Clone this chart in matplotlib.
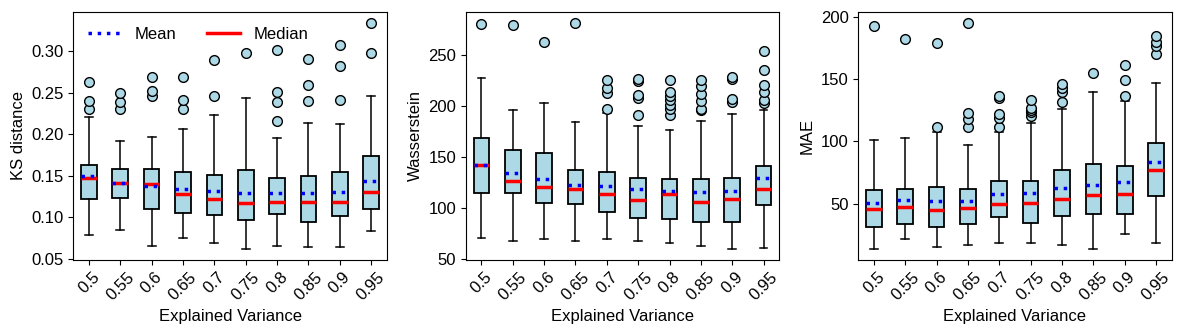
import matplotlib.pyplot as plt
import numpy as np

plt.rcParams['font.family'] = ['Liberation Sans', 'DejaVu Sans']
plt.rcParams['font.size'] = 12

labels = ['0.5', '0.55', '0.6', '0.65', '0.7', '0.75', '0.8', '0.85', '0.9', '0.95']

# KS distance
ks_whislo = [0.0794, 0.0845, 0.0663, 0.0758, 0.0699, 0.0627, 0.0663, 0.0643, 0.0643, 0.0833]
ks_q1 = [0.1223, 0.1234, 0.1103, 0.1048, 0.1032, 0.0972, 0.1044, 0.0941, 0.1020, 0.1103]
ks_med = [0.1473, 0.1413, 0.1401, 0.1286, 0.1223, 0.1175, 0.1187, 0.1187, 0.1187, 0.1310]
ks_mean = [0.1500, 0.1413, 0.1377, 0.1342, 0.1318, 0.1294, 0.1294, 0.1294, 0.1306, 0.1437]
ks_q3 = [0.1627, 0.1580, 0.1580, 0.1544, 0.1512, 0.1576, 0.1473, 0.1500, 0.1544, 0.1739]
ks_whishi = [0.2211, 0.1913, 0.1965, 0.2060, 0.2227, 0.2437, 0.1953, 0.2136, 0.2124, 0.2461]
ks_fliers = [
    [0.2306, 0.2394, 0.2632],
    [0.2306, 0.2386, 0.2489],
    [0.2457, 0.2513, 0.2687],
    [0.2298, 0.2413, 0.2687],
    [0.2461, 0.2890],
    [0.2973],
    [0.2163, 0.2382, 0.2509, 0.3009],
    [0.2394, 0.2592, 0.2898],
    [0.2406, 0.2814, 0.3069],
    [0.2973, 0.3335],
]

# Wasserstein
ws_whislo = [70.5, 67.9, 69.5, 67.9, 69.5, 67.9, 65.9, 62.6, 60.0, 61.0]
ws_q1 = [114.6, 114.6, 104.9, 103.6, 96.1, 89.9, 88.9, 86.5, 86.5, 102.4]
ws_med = [141.6, 126.0, 120.5, 118.2, 113.6, 107.5, 113.3, 105.6, 108.5, 117.9]
ws_mean = [141.6, 133.8, 127.9, 122.1, 121.1, 118.2, 116.0, 115.3, 116.3, 129.5]
ws_q3 = [167.9, 156.8, 153.9, 137.3, 135.4, 128.9, 128.3, 127.9, 128.9, 140.6]
ws_whishi = [227.3, 195.5, 202.9, 184.4, 193.2, 179.6, 176.0, 185.4, 191.9, 195.8]
ws_fliers = [
    [279.9],
    [278.9],
    [262.4],
    [280.9],
    [197.1, 212.7, 217.2, 224.7],
    [191.2, 207.5, 210.7, 223.7, 226.0],
    [191.2, 196.4, 200.3, 205.2, 209.4, 213.3, 224.7],
    [195.5, 196.4, 204.6, 211.7, 218.9, 224.7],
    [203.9, 206.2, 226.0, 227.6],
    [202.6, 205.8, 213.6, 219.8, 235.1, 253.9],
]

# MAE
mae_whislo = [13.8, 21.3, 15.4, 17.0, 18.6, 18.6, 17.0, 13.8, 25.8, 18.6]
mae_q1 = [31.4, 33.8, 31.4, 33.8, 39.4, 34.6, 39.9, 41.8, 41.8, 56.1]
mae_med = [45.7, 47.3, 44.9, 46.5, 50.0, 50.5, 53.7, 56.9, 58.0, 76.9]
mae_mean = [50.5, 52.9, 51.9, 52.1, 57.7, 58.5, 62.5, 64.9, 67.3, 83.2]
mae_q3 = [60.9, 61.7, 63.0, 61.7, 68.1, 68.1, 76.9, 81.6, 80.1, 98.4]
mae_whishi = [100.8, 102.7, 107.7, 96.8, 107.4, 114.9, 125.8, 139.4, 132.7, 146.5]
mae_fliers = [
    [192.6],
    [182.2],
    [111.4, 179.0],
    [111.4, 117.6, 122.6, 195.0],
    [111.4, 118.4, 122.1, 135.1, 136.7],
    [120.2, 123.1, 125.5, 127.1, 133.5],
    [131.9, 139.9, 143.1, 146.3],
    [155.1],
    [136.7, 149.5, 161.4],
    [170.2, 176.9, 180.1, 184.6],
]


def make_stats(whislo, q1, med, mean, q3, whishi, fliers):
    stats = []
    for i in range(len(labels)):
        stats.append(dict(label=labels[i], whislo=whislo[i], q1=q1[i], med=med[i],
                          mean=mean[i], q3=q3[i], whishi=whishi[i],
                          fliers=np.array(fliers[i])))
    return stats


panels = [
    (make_stats(ks_whislo, ks_q1, ks_med, ks_mean, ks_q3, ks_whishi, ks_fliers), 'KS distance'),
    (make_stats(ws_whislo, ws_q1, ws_med, ws_mean, ws_q3, ws_whishi, ws_fliers), 'Wasserstein'),
    (make_stats(mae_whislo, mae_q1, mae_med, mae_mean, mae_q3, mae_whishi, mae_fliers), 'MAE'),
]

fig, axes = plt.subplots(1, 3, figsize=(11.82, 3.34), dpi=100)
fig.subplots_adjust(left=0.062, right=0.9913, top=0.965, bottom=0.222, wspace=0.252)

for ax, (stats, ylab) in zip(axes, panels):
    ax.bxp(stats, showmeans=True, meanline=True, patch_artist=True,
           boxprops=dict(facecolor='lightblue', edgecolor='black', linewidth=1.3),
           medianprops=dict(color='red', linewidth=2.5),
           meanprops=dict(color='blue', linestyle=':', linewidth=2.5),
           whiskerprops=dict(linewidth=1.1),
           capprops=dict(linewidth=1.1),
           flierprops=dict(marker='o', markerfacecolor='lightblue',
                           markeredgecolor='black', markersize=7))
    ax.set_ylabel(ylab)
    ax.set_xlabel('Explained Variance')
    ax.tick_params(axis='x', rotation=45)

axes[0].plot([], [], color='blue', linestyle=':', linewidth=2.5, label='Mean')
axes[0].plot([], [], color='red', linewidth=2.5, label='Median')
axes[0].legend(loc='upper left', ncol=2, frameon=False, columnspacing=1.8)

plt.savefig('out.png')
